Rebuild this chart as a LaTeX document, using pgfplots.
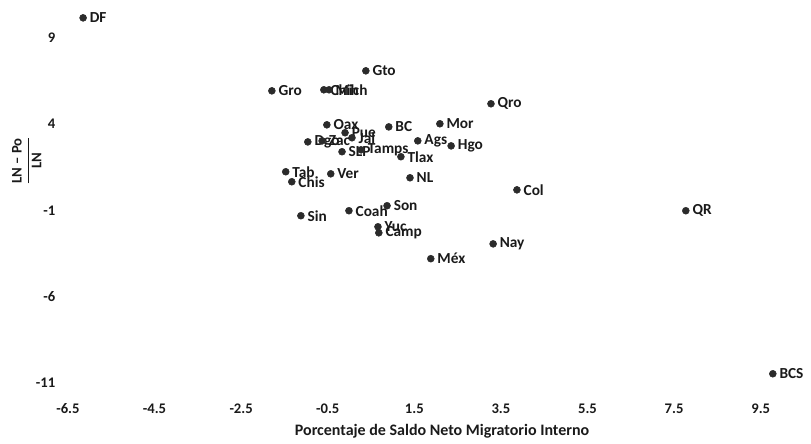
\documentclass[border=0pt]{standalone}
\usepackage{pgfplots}
\pgfplotsset{compat=1.18}
\usepackage{pgfplotstable}
\usepackage{amsmath}
\usepackage{fontspec}
\setmainfont{Carlito}
\definecolor{txt}{HTML}{1A1A1A}
\definecolor{dot}{HTML}{2B2B2B}

\pgfplotstableread{
lab x y
DF -6.15 10.16
Gto 0.38 7.09
Gro -1.79 5.93
Chih -0.59 5.99
Mich -0.47 5.99
Qro 3.27 5.18
Mor 2.09 4.02
Oax -0.52 3.96
BC 0.91 3.84
Pue -0.10 3.50
Jal 0.06 3.21
Dgo -0.96 2.97
Zac -0.63 3.03
Ags 1.58 3.03
Hgo 2.35 2.74
SLP -0.17 2.40
Tamps 0.27 2.51
Tlax 1.19 2.11
Tab -1.47 1.24
Ver -0.43 1.12
Chis -1.33 0.66
NL 1.40 0.89
Col 3.87 0.19
Son 0.87 -0.73
Coah -0.01 -1.02
QR 7.77 -1.02
Sin -1.12 -1.31
Yuc 0.66 -1.95
Camp 0.68 -2.30
Nay 3.32 -2.94
Méx 1.88 -3.80
BCS 9.78 -10.47
}\datos

\begin{document}
\begin{tikzpicture}[font=\bfseries\fontsize{11.5}{12}\selectfont, color=txt]
\begin{axis}[
  x=32.5pt, y=12.95pt,
  xmin=-6.5, xmax=10.2, ymin=-11, ymax=10.5,
  xtick={-6.5,-4.5,-2.5,-0.5,1.5,3.5,5.5,7.5,9.5},
  xticklabels={-6.5,-4.5,-2.5,-0.5,1.5,3.5,5.5,7.5,9.5},
  ytick={-11,-6,-1,4,9},
  yticklabels={-11,-6,-1,4,9},
  axis line style={draw=none}, tick style={draw=none},
  xticklabel style={yshift=-12pt, font=\bfseries\fontsize{11}{12}\selectfont, text=txt},
  yticklabel style={xshift=-6pt, font=\bfseries\fontsize{11}{12}\selectfont, text=txt},
  clip=false,
]
% estados: saldo migratorio vs (LN-Po)/LN
\addplot[only marks, mark=*, mark size=2.6pt, color=dot,
  nodes near coords, point meta=explicit symbolic,
  every node near coord/.append style={anchor=west, xshift=1.5pt, text=txt,
    font=\bfseries\fontsize{11.5}{12}\selectfont}]
  table[x=x, y=y, meta=lab]{\datos};
\node[font=\bfseries\fontsize{12}{13}\selectfont] at (axis cs:2.14,-13.83)
  {Porcentaje de Saldo Neto Migratorio Interno};
\node[rotate=90, font=\bfseries\fontsize{11}{12}\selectfont] at (axis cs:-7.45,1.87)
  {$\dfrac{\text{LN -- Po}}{\text{LN}}$};
\end{axis}
\path ([xshift=-51pt,yshift=-42pt]current axis.south west) rectangle ([xshift=15pt,yshift=9pt]current axis.north east);
\end{tikzpicture}
\end{document}
